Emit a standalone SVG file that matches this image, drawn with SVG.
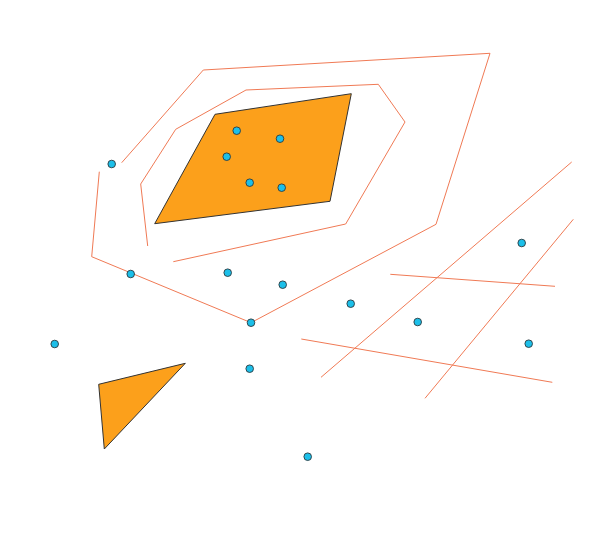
<svg xmlns="http://www.w3.org/2000/svg" width="599" height="542" viewBox="0 0 599 542">
<style>
.ln{fill:none;stroke:#f07a55;stroke-width:1}
.poly{fill:#fca01b;stroke:#333;stroke-width:1}
.pt{fill:#1cbfe9;stroke:#2a3a40;stroke-width:0.9}
</style>
<rect width="599" height="542" fill="#fff"/>
<g id="connectors">
<polyline class="ln" points="99.3,171.7 91.7,256.7 251,322.7 436,224.3 490,53.3 203.3,70 121.7,162.7"/>
<polyline class="ln" points="147.7,246 140.7,184 175.7,129.3 246,90 378.3,84.3 405,122 345.7,224 173.3,261.7"/>
<line class="ln" x1="571.7" y1="162" x2="321" y2="377.3"/>
<line class="ln" x1="573.3" y1="219.3" x2="425" y2="398.3"/>
<line class="ln" x1="390.3" y1="274.3" x2="555" y2="286.3"/>
<line class="ln" x1="301.3" y1="339" x2="552.3" y2="382.3"/>
</g>
<g id="quad"><polygon class="poly" points="215,114.3 351.3,93.7 330,201.3 154.7,223.7"/></g>
<g id="triangle"><polygon class="poly" points="98.7,384.3 185.3,363.3 104.3,449"/></g>
<g id="points">
<circle class="pt" cx="236.7" cy="130.7" r="3.8"/>
<circle class="pt" cx="280" cy="138.7" r="3.8"/>
<circle class="pt" cx="226.7" cy="156.7" r="3.8"/>
<circle class="pt" cx="249.7" cy="182.7" r="3.8"/>
<circle class="pt" cx="281.7" cy="187.7" r="3.8"/>
<circle class="pt" cx="111.7" cy="164" r="3.8"/>
<circle class="pt" cx="130.7" cy="274" r="3.8"/>
<circle class="pt" cx="227.7" cy="272.7" r="3.8"/>
<circle class="pt" cx="282.7" cy="284.7" r="3.8"/>
<circle class="pt" cx="251" cy="322.7" r="3.8"/>
<circle class="pt" cx="54.7" cy="344" r="3.8"/>
<circle class="pt" cx="249.7" cy="368.7" r="3.8"/>
<circle class="pt" cx="307.7" cy="456.7" r="3.8"/>
<circle class="pt" cx="521.7" cy="243" r="3.8"/>
<circle class="pt" cx="350.7" cy="303.7" r="3.8"/>
<circle class="pt" cx="417.7" cy="322" r="3.8"/>
<circle class="pt" cx="528.7" cy="343.7" r="3.8"/>
</g>
</svg>
